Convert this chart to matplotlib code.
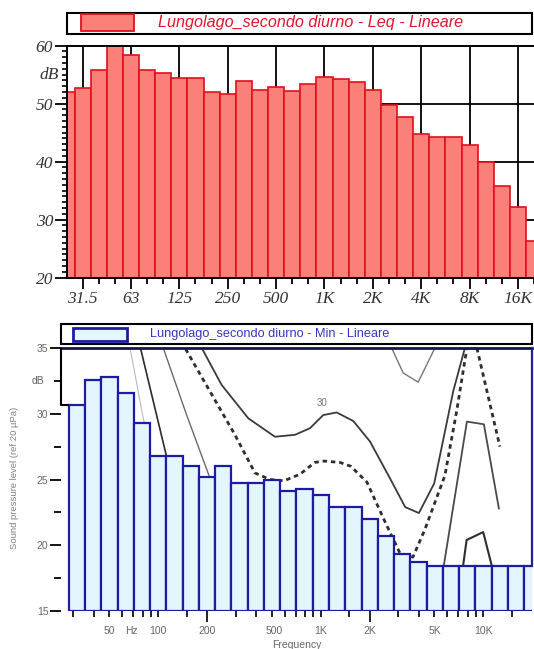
import matplotlib
matplotlib.use("Agg")
import matplotlib.pyplot as plt
from matplotlib.patches import Rectangle
from matplotlib.ticker import FixedLocator, NullFormatter
import numpy as np

W, H = 534, 649

# ---- data -------------------------------------------------------------
# 1/3-octave band numbers relative to 1 kHz (band n -> 1000 * 10**(n/10))
leq_band_index = list(range(-16, 14))          # 25 Hz ... 20 kHz
leq_db = [52.0, 52.6, 55.7, 60.5, 58.4, 55.7, 55.3, 54.4, 54.4, 51.9,
          51.6, 53.9, 52.3, 52.9, 52.2, 53.3, 54.6, 54.3, 53.7, 52.3,
          49.8, 47.6, 44.8, 44.2, 44.2, 42.9, 40.0, 35.8, 32.1, 26.3]

min_band_index = list(range(-15, 14))          # 31.5 Hz ... 20 kHz
min_db = [30.7, 32.6, 32.8, 31.6, 29.3, 26.8, 26.8, 26.0, 25.2, 26.0,
          24.7, 24.7, 25.0, 24.1, 24.3, 23.8, 22.9, 22.9, 22.0, 20.7,
          19.3, 18.7, 18.4, 18.4, 18.4, 18.4, 18.4, 18.4, 18.4]

octave_index = [-15, -12, -9, -6, -3, 0, 3, 6, 9, 12]
octave_labels = ["31.5", "63", "125", "250", "500", "1K", "2K", "4K", "8K", "16K"]

# reference contours drawn behind the minimum spectrum (Hz, dB)
thr_f = [140, 146, 296, 393, 486, 593, 744, 919, 1045, 1310, 1531, 1920,
         2477, 3064, 3683, 4365, 5794, 6868, 7913, 8496, 9115, 12628]
thr_db = [35.5, 35.0, 28.4, 25.5, 25.0, 24.9, 25.4, 26.3, 26.4, 26.3, 26.0,
          24.8, 21.8, 19.4, 19.1, 21.2, 25.3, 30.3, 35.0, 37.1, 35.0, 27.5]

c30_f = [180, 185, 245, 358, 522, 693, 857, 1034, 1250, 1582, 2003, 2659,
         3304, 4010, 4979, 5877, 6517, 7691, 8024]
c30_db = [35.4, 35.0, 32.2, 29.65, 28.25, 28.4, 28.9, 29.9, 30.1, 29.45,
          27.9, 25.1, 22.9, 22.45, 24.7, 29.0, 31.7, 35.0, 36.4]

c_a_f = [64.6, 67.0, 80.8, 88.9]
c_a_db = [35.9, 35.0, 29.65, 27.6]
c_b1_f = [75.5, 78.2, 112.6, 121.4]
c_b1_db = [35.7, 34.85, 26.7, 25.0]
c_b2_f = [102.4, 107.3, 149.4, 207.9, 223]
c_b2_db = [35.8, 35.0, 29.9, 25.1, 24.2]
c_v_f = [2586, 2725, 3211, 3969, 4959, 5138]
c_v_db = [35.8, 35.0, 33.1, 32.4, 34.85, 35.8]
c_e_f = [5713, 7913, 10067, 12449]
c_e_db = [18.5, 29.4, 29.2, 22.8]
c_f_f = [7510, 7881, 9968, 11226]
c_f_db = [18.5, 20.4, 21.0, 18.5]

bottom_minor_f = [30, 40, 50, 60, 70, 80, 90, 100, 150, 300, 400, 500, 600,
                  700, 800, 900, 1000, 1500, 3000, 4000, 5000, 6000, 7000,
                  8000, 9000, 10000, 15000]
bottom_major_f = [200, 2000]
bottom_label_f = [50, 68.5, 100, 200, 520, 1000, 2000, 5000, 10000]
bottom_labels = ["50", "Hz", "100", "200", "500", "1K", "2K", "5K", "10K"]


def centre(n):
    return 1000.0 * 10 ** (n / 10.0)


def edges(n):
    fc = centre(n)
    return fc * 10 ** -0.05, fc * 10 ** 0.05


def frame(l, t, r, b):
    return [l / W, 1 - b / H, (r - l) / W, (b - t) / H]


fig = plt.figure(figsize=(W / 100, H / 100), dpi=100)
fig.patch.set_facecolor("white")

serif_it = dict(family="Liberation Serif", style="italic", size=12.5, color="#333333")

# ---- upper chart: Leq ---------------------------------------------------
ax1 = fig.add_axes(frame(67, 45.5, 536, 277.5))
ax1.set_xscale("log")
ax1.set_xlim(25.3, 20500)
ax1.set_ylim(20, 60)
lo = [edges(n)[0] for n in leq_band_index]
wd = [edges(n)[1] - edges(n)[0] for n in leq_band_index]
ax1.bar(lo, [v - 20 for v in leq_db], width=wd, bottom=20, align="edge",
        color="#fa8079", edgecolor="#e0101c", linewidth=1.2, zorder=2)
for n in octave_index:
    ax1.axvline(centre(n), color="black", lw=1.3, zorder=0.5)
for yv in (30, 40, 50):
    ax1.axhline(yv, color="black", lw=1.3, zorder=0.5)

ax1.xaxis.set_major_locator(FixedLocator([centre(n) for n in octave_index]))
ax1.xaxis.set_minor_locator(FixedLocator([centre(n) for n in leq_band_index
                                          if n not in octave_index]))
ax1.set_xticklabels(octave_labels, fontdict=serif_it)
ax1.xaxis.set_minor_formatter(NullFormatter())
ax1.set_yticks([20, 30, 40, 50, 60])
ax1.set_yticklabels(["20", "30", "40", "50", "60"], fontdict=serif_it)
ax1.yaxis.set_minor_locator(FixedLocator([v for v in range(21, 60) if v % 10]))
ax1.tick_params(axis="x", which="major", direction="out", length=8, width=1.3, pad=2)
ax1.tick_params(axis="x", which="minor", direction="out", length=4, width=1.3)
ax1.tick_params(axis="y", which="major", direction="out", length=9, width=1.3, pad=1)
ax1.tick_params(axis="y", which="minor", direction="out", length=3.5, width=1.2)
ax1.text(-0.018, 55, "dB", transform=ax1.get_yaxis_transform(), ha="right",
         va="center", **serif_it)
ax1.spines["right"].set_visible(False)
for s in ("left", "top", "bottom"):
    ax1.spines[s].set_linewidth(1.4)
ax1.spines["top"].set_zorder(3)

# ---- lower chart: Min with reference contours ---------------------------
ax2 = fig.add_axes(frame(61, 348, 532, 611))
ax2.set_xscale("log")
ax2.set_xlim(25.2, 19900)
ax2.set_ylim(15, 35)

ax2.plot(c_a_f, c_a_db, color="#b9b9b9", lw=0.8, zorder=1)
ax2.plot(c_b1_f, c_b1_db, color="#2c2c2c", lw=1.2, zorder=1)
ax2.plot(c_b2_f, c_b2_db, color="#6a6a6a", lw=1.0, zorder=1)
ax2.plot(thr_f, thr_db, color="#2e2e2e", lw=2.0, dashes=(1.6, 1.4), zorder=1)
ax2.plot(c30_f, c30_db, color="#3a3a3a", lw=1.3, zorder=1)
ax2.plot(c_v_f, c_v_db, color="#777777", lw=1.0, zorder=1)
ax2.plot(c_e_f, c_e_db, color="#4a4a4a", lw=1.3, zorder=1)
ax2.plot(c_f_f, c_f_db, color="#2e2e2e", lw=1.5, zorder=1)
ax2.text(1011, 30.8, "30", color="#777777", size=7, ha="center", va="center",
         family="Liberation Sans", zorder=1)

lo2 = [edges(n)[0] for n in min_band_index]
wd2 = [edges(n)[1] - edges(n)[0] for n in min_band_index]
ax2.bar(lo2, [v - 15 for v in min_db], width=wd2, bottom=15, align="edge",
        color="#e4f5fe", edgecolor="#1c1ca2", linewidth=1.6, zorder=2)

for s in ("left", "bottom", "right"):
    ax2.spines[s].set_visible(False)
ax2.spines["top"].set_color("#141450")
ax2.spines["top"].set_linewidth(2.0)
xl, xr = ax2.get_xlim()
ax2.plot([xl, xl, lo2[0]], [35, min_db[0], min_db[0]], color="black", lw=1.5,
         clip_on=False, zorder=4, solid_capstyle="butt")
ax2.plot([xr, xr], [35, min_db[-1]], color="#20209a", lw=1.6, clip_on=False, zorder=4)

ax2.set_yticks([15, 20, 25, 30, 35])
ax2.set_yticklabels(["15", "20", "25", "30", "35"], family="Liberation Sans",
                    size=7.5, color="#666666")
ax2.yaxis.set_minor_locator(FixedLocator([17.5, 22.5, 27.5, 32.5]))
ax2.tick_params(axis="y", which="major", direction="out", length=8, width=1.3, pad=1)
ax2.tick_params(axis="y", which="minor", direction="out", length=5, width=1.3)
ax2.text(-0.035, 32.5, "dB", transform=ax2.get_yaxis_transform(), ha="right",
         va="center", family="Liberation Sans", size=7.5, color="#666666")

ax2.xaxis.set_major_locator(FixedLocator(bottom_major_f))
ax2.xaxis.set_minor_locator(FixedLocator(bottom_minor_f))
ax2.xaxis.set_major_formatter(NullFormatter())
ax2.xaxis.set_minor_formatter(NullFormatter())
ax2.tick_params(axis="x", which="major", direction="out", length=8, width=1.2)
ax2.tick_params(axis="x", which="minor", direction="out", length=4, width=1.2)
for f, lab in zip(bottom_label_f, bottom_labels):
    ax2.text(f, -0.075, lab, transform=ax2.get_xaxis_transform(), ha="center",
             va="center", family="Liberation Sans", size=7.5, color="#666666")
ax2.text(0.5, -0.13, "Frequency", transform=ax2.transAxes, ha="center",
         va="center", family="Liberation Sans", size=7.5, color="#666666")

# ---- legend boxes and side label -------------------------------------
ov = fig.add_axes([0, 0, 1, 1], zorder=10)
ov.set_xlim(0, W)
ov.set_ylim(H, 0)
ov.axis("off")
ov.patch.set_visible(False)

ov.add_patch(Rectangle((67, 12.6), 465.3, 21.5, fc="white", ec="black", lw=1.5))
ov.add_patch(Rectangle((80.7, 14.2), 53.2, 16.3, fc="#fa8079", ec="#e0101c", lw=1.3))
ov.text(311, 22.2, "Lungolago_secondo diurno - Leq - Lineare", color="#e4122a",
        family="Liberation Sans", style="italic", size=11.6, ha="center", va="center")

ov.add_patch(Rectangle((61.3, 323.8), 471.1, 19.8, fc="white", ec="black", lw=1.5))
ov.add_patch(Rectangle((72.5, 327.5), 54.5, 13.5, fc="#e4f5fe", ec="#1c1ca2", lw=2.0))
ov.text(270, 333.5, "Lungolago_secondo diurno - Min - Lineare", color="#3535c5",
        family="Liberation Sans", size=9.2, ha="center", va="center")

ov.text(15, 478, "Sound pressure level (ref 20 \u00b5Pa)", rotation=90, color="#808080",
        family="Liberation Sans", size=6.8, ha="center", va="center")

fig.savefig("out.png", dpi=100)
